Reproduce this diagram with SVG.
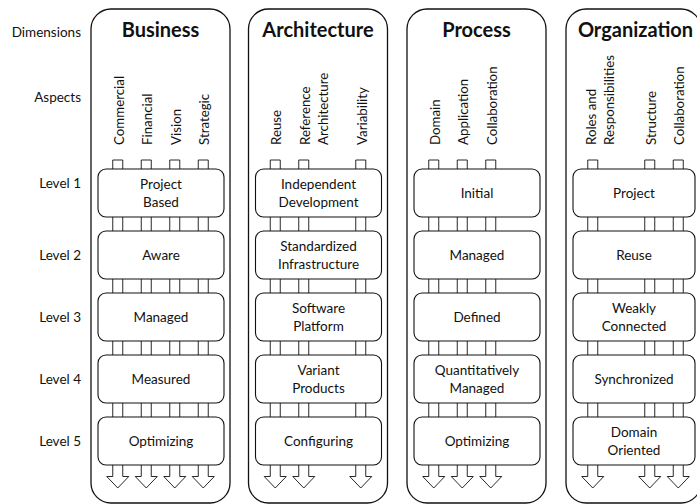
<svg xmlns="http://www.w3.org/2000/svg" xmlns:xlink="http://www.w3.org/1999/xlink" width="697" height="504" viewBox="0 0 697 504">
<defs>
<style>
text { font-family: Lato, "Liberation Sans", sans-serif; fill: #111; }
.col { fill: none; stroke: #111; stroke-width: 1.3; }
.box { fill: #fff; stroke: #111; stroke-width: 1.1; }
.arr { fill: #fff; stroke: #111; stroke-width: 0.9; }
.lbl { font-size: 13.5px; text-anchor: end; }
.ttl { font-size: 20px; font-weight: bold; text-anchor: middle; }
.asp { font-size: 13.3px; }
.lv { font-size: 13.5px; text-anchor: middle; }
</style>
<path id="arrow" class="arr" d="M-5,160 H5 V476.5 H11 L0,488 L-11,476.5 H-5 Z"/>
</defs>
<rect x="0" y="0" width="697" height="504" fill="#fff"/>

<g id="row-labels">
<text class="lbl" x="81" y="37">Dimensions</text>
<text class="lbl" x="81" y="102">Aspects</text>
<text class="lbl" x="81" y="188">Level 1</text>
<text class="lbl" x="81" y="259.8">Level 2</text>
<text class="lbl" x="81" y="321.8">Level 3</text>
<text class="lbl" x="81" y="383.8">Level 4</text>
<text class="lbl" x="81" y="445.8">Level 5</text>
</g>

<g id="col-business">
<rect class="col" x="91" y="9" width="139" height="494" rx="20"/>
<text class="ttl" x="160.5" y="37">Business</text>
<text class="asp" transform="translate(123.75,145) rotate(-90)">Commercial</text>
<text class="asp" transform="translate(152.25,145) rotate(-90)">Financial</text>
<text class="asp" transform="translate(180.75,145) rotate(-90)">Vision</text>
<text class="asp" transform="translate(209.25,145) rotate(-90)">Strategic</text>
</g>
<g id="col-architecture">
<rect class="col" x="248.5" y="9" width="139" height="494" rx="20"/>
<text class="ttl" x="318" y="37">Architecture</text>
<text class="asp" transform="translate(281.25,145) rotate(-90)">Reuse</text>
<text class="asp" transform="translate(309.5,145) rotate(-90)">Reference</text>
<text class="asp" transform="translate(328,145) rotate(-90)">Architecture</text>
<text class="asp" transform="translate(366.75,145) rotate(-90)">Variability</text>
</g>
<g id="col-process">
<rect class="col" x="407" y="9" width="139" height="494" rx="20"/>
<text class="ttl" x="476.5" y="37">Process</text>
<text class="asp" transform="translate(439.75,145) rotate(-90)">Domain</text>
<text class="asp" transform="translate(468.25,145) rotate(-90)">Application</text>
<text class="asp" transform="translate(496.75,145) rotate(-90)">Collaboration</text>
</g>
<g id="col-organization">
<rect class="col" x="566" y="9" width="135" height="494" rx="20"/>
<text class="ttl" x="635.5" y="37">Organization</text>
<text class="asp" transform="translate(595.5,145) rotate(-90)">Roles and</text>
<text class="asp" transform="translate(614,145) rotate(-90)">Responsibilities</text>
<text class="asp" transform="translate(655.75,145) rotate(-90)">Structure</text>
<text class="asp" transform="translate(684.25,145) rotate(-90)">Collaboration</text>
</g>

<g id="connectors">
<use href="#arrow" x="117.75"/>
<use href="#arrow" x="146.25"/>
<use href="#arrow" x="174.75"/>
<use href="#arrow" x="203.25"/>
<use href="#arrow" x="275.25"/>
<use href="#arrow" x="303.75"/>
<use href="#arrow" x="360.75"/>
<use href="#arrow" x="433.75"/>
<use href="#arrow" x="462.25"/>
<use href="#arrow" x="490.75"/>
<use href="#arrow" x="592.75"/>
<use href="#arrow" x="649.75"/>
<use href="#arrow" x="678.25"/>
</g>

<g id="b1"><rect class="box" x="98" y="169" width="126" height="48" rx="8"/><text class="lv" x="161" y="188.5">Project</text><text class="lv" x="161" y="207">Based</text></g>
<g id="b2"><rect class="box" x="98" y="231" width="126" height="48" rx="8"/><text class="lv" x="161" y="259.8">Aware</text></g>
<g id="b3"><rect class="box" x="98" y="293" width="126" height="48" rx="8"/><text class="lv" x="161" y="321.8">Managed</text></g>
<g id="b4"><rect class="box" x="98" y="355" width="126" height="48" rx="8"/><text class="lv" x="161" y="383.8">Measured</text></g>
<g id="b5"><rect class="box" x="98" y="417" width="126" height="48" rx="8"/><text class="lv" x="161" y="445.8">Optimizing</text></g>

<g id="a1"><rect class="box" x="255.5" y="169" width="126" height="48" rx="8"/><text class="lv" x="318.5" y="188.5">Independent</text><text class="lv" x="318.5" y="207">Development</text></g>
<g id="a2"><rect class="box" x="255.5" y="231" width="126" height="48" rx="8"/><text class="lv" x="318.5" y="250.5">Standardized</text><text class="lv" x="318.5" y="269">Infrastructure</text></g>
<g id="a3"><rect class="box" x="255.5" y="293" width="126" height="48" rx="8"/><text class="lv" x="318.5" y="312.5">Software</text><text class="lv" x="318.5" y="331">Platform</text></g>
<g id="a4"><rect class="box" x="255.5" y="355" width="126" height="48" rx="8"/><text class="lv" x="318.5" y="374.5">Variant</text><text class="lv" x="318.5" y="393">Products</text></g>
<g id="a5"><rect class="box" x="255.5" y="417" width="126" height="48" rx="8"/><text class="lv" x="318.5" y="445.8">Configuring</text></g>

<g id="p1"><rect class="box" x="414" y="169" width="126" height="48" rx="8"/><text class="lv" x="477" y="197.8">Initial</text></g>
<g id="p2"><rect class="box" x="414" y="231" width="126" height="48" rx="8"/><text class="lv" x="477" y="259.8">Managed</text></g>
<g id="p3"><rect class="box" x="414" y="293" width="126" height="48" rx="8"/><text class="lv" x="477" y="321.8">Defined</text></g>
<g id="p4"><rect class="box" x="414" y="355" width="126" height="48" rx="8"/><text class="lv" x="477" y="374.5">Quantitatively</text><text class="lv" x="477" y="393">Managed</text></g>
<g id="p5"><rect class="box" x="414" y="417" width="126" height="48" rx="8"/><text class="lv" x="477" y="445.8">Optimizing</text></g>

<g id="o1"><rect class="box" x="573" y="169" width="122" height="48" rx="8"/><text class="lv" x="634" y="197.8">Project</text></g>
<g id="o2"><rect class="box" x="573" y="231" width="122" height="48" rx="8"/><text class="lv" x="634" y="259.8">Reuse</text></g>
<g id="o3"><rect class="box" x="573" y="293" width="122" height="48" rx="8"/><text class="lv" x="634" y="312.5">Weakly</text><text class="lv" x="634" y="331">Connected</text></g>
<g id="o4"><rect class="box" x="573" y="355" width="122" height="48" rx="8"/><text class="lv" x="634" y="383.8">Synchronized</text></g>
<g id="o5"><rect class="box" x="573" y="417" width="122" height="48" rx="8"/><text class="lv" x="634" y="436.5">Domain</text><text class="lv" x="634" y="455">Oriented</text></g>
</svg>
